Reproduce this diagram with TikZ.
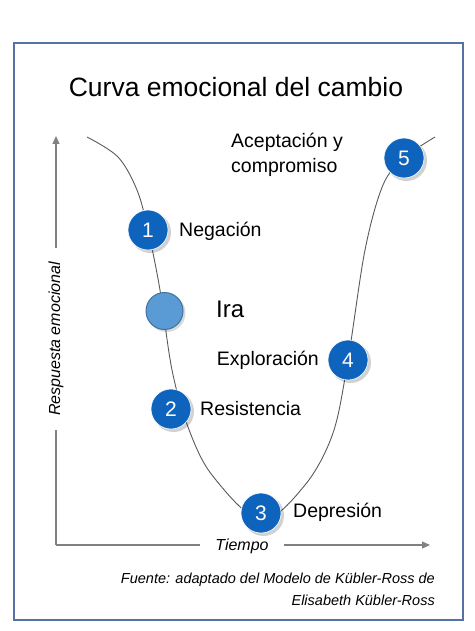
\documentclass[tikz,border=0pt]{standalone}
\usepackage{fontspec}
\setmainfont{Liberation Sans}
\usetikzlibrary{arrows.meta}
\definecolor{framec}{RGB}{84,114,163}
\definecolor{axisc}{RGB}{128,128,128}
\definecolor{darkb}{RGB}{14,100,188}
\definecolor{lightb}{RGB}{91,155,213}
\definecolor{lightbd}{RGB}{65,113,156}
\definecolor{curvec}{RGB}{90,90,90}
\tikzset{
  stage/.style={circle, fill=darkb, draw=white, line width=0.6pt, minimum size=40pt, inner sep=0pt, text=white, font=\fontsize{21}{24}\selectfont},
  shadowc/.style={circle, fill=black, opacity=0.18, minimum size=41pt, inner sep=0pt},
  lbl/.style={font=\fontsize{19.5}{25}\selectfont, inner sep=0pt},
  axlbl/.style={fill=white, font=\fontsize{16}{18}\selectfont\itshape, inner ysep=4pt, inner xsep=14pt},
  axis/.style={draw=axisc, line width=1.1pt, -{Triangle[length=8pt,width=7pt]}},
}
\begin{document}
\begin{tikzpicture}[x=1pt,y=-1pt]
\useasboundingbox (0,0) rectangle (474,631);
\draw[framec, line width=1.3pt] (14,43) rectangle (463,620);
\node[font=\fontsize{26.5}{30}\selectfont] (title) at (236,87) {Curva emocional del cambio};

% axes
\coordinate (o) at (56,545);
\coordinate (ytop) at (56,136);
\coordinate (xend) at (430,545);
\draw[axis] (o) -- (ytop);
\draw[axis] (o) -- (xend);
\node[axlbl, rotate=90] (ylab) at (56,339) {Respuesta emocional};
\node[axlbl, inner xsep=15pt] (xlab) at (242,546) {Tiempo};

% curve
\draw[curvec, line width=0.9pt] plot[smooth, tension=0.55] coordinates {
 (87,137) (118,157) (137,190) (148,230) (160,290) (172,370) (188,427)
 (212,475) (261,520) (305,485) (333,433) (348,360) (365,250) (383,185) (404,158) (435,137)};

% shadows
\foreach \px/\py in {148/230,171/409,261/513,348/360,404/158}
  \node[shadowc] at (\px+2.5,\py+2.5) {};
\node[circle, fill=black, opacity=0.15, minimum size=38pt, inner sep=0pt] (irash) at (166.5,313) {};

% stages
\node[stage] (s1) at (148,230) {1};
\node[circle, fill=lightb, draw=lightbd, line width=1pt, minimum size=37pt, inner sep=0pt] (ira) at (164.5,311) {};
\node[stage] (s2) at (171,409) {2};
\node[stage] (s3) at (261,513) {3};
\node[stage] (s4) at (348,360) {4};
\node[stage] (s5) at (404,158) {5};

% labels
\node[lbl, anchor=west] (l1) at (179,231) {Negación};
\node[lbl, anchor=west, font=\fontsize{24}{28}\selectfont] (lira) at (216,309) {Ira};
\node[lbl, anchor=west] (l2) at (200,409) {Resistencia};
\node[lbl, anchor=west] (l3) at (293,512) {Depresión};
\node[lbl, anchor=east] (l4) at (319,360) {Exploración};
\node[lbl, anchor=north west, align=left] (l5) at (231,133) {Aceptación y\\compromiso};

% source
\node[anchor=east, align=right, inner sep=0pt, font=\fontsize{14.5}{22}\selectfont\itshape] (src) at (435,589)
 {Fuente: adaptado del Modelo de Kübler-Ross de\\Elisabeth Kübler-Ross};
\end{tikzpicture}
\end{document}
